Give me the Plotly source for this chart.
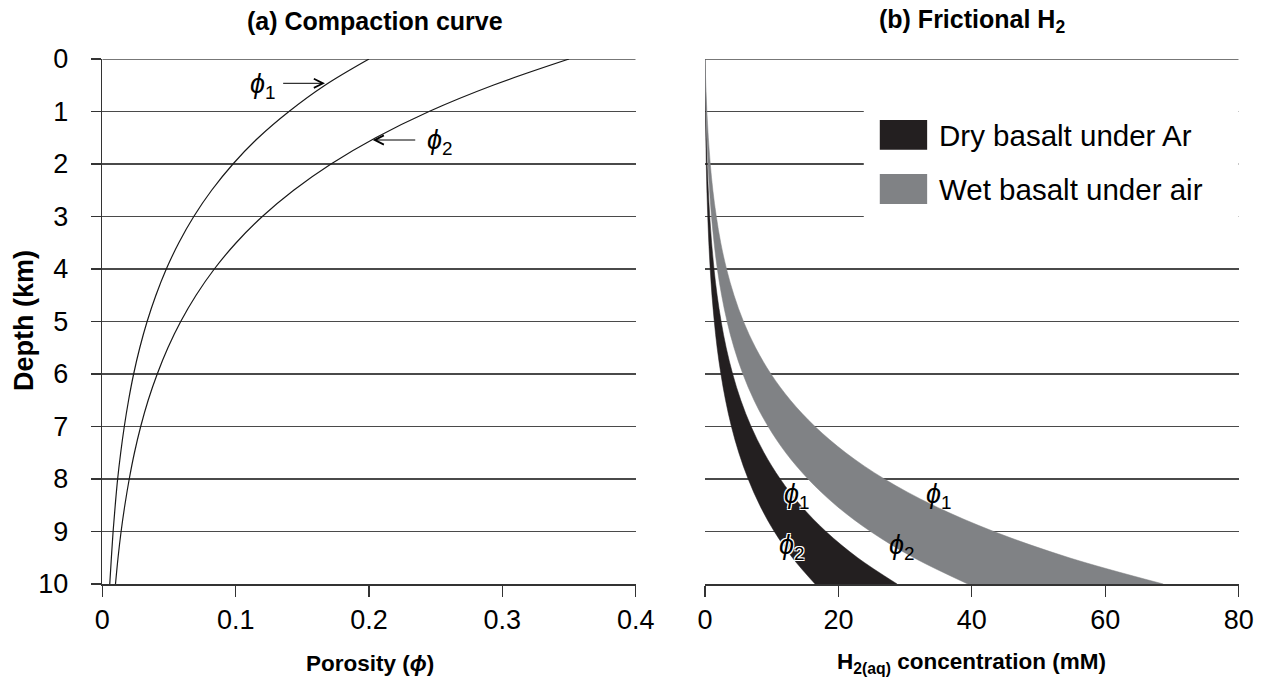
import plotly.graph_objects as go

# ---------------- data ----------------
depth_km = [0, 0.5, 1, 1.5, 2, 2.5, 3, 3.5, 4, 4.5, 5, 5.5, 6, 6.5, 7, 7.5, 8, 8.5, 9, 9.5, 10]

# (a) compaction curves: porosity vs depth
porosity_phi1 = [0.200, 0.167, 0.140, 0.117, 0.098, 0.082, 0.0686, 0.0574, 0.0480, 0.0402, 0.0336,
                 0.0281, 0.0235, 0.0197, 0.0165, 0.0138, 0.0115, 0.0097, 0.0081, 0.0068, 0.0056]
porosity_phi2 = [0.350, 0.293, 0.245, 0.205, 0.1715, 0.1435, 0.120, 0.1004, 0.0840, 0.0703, 0.0588,
                 0.0492, 0.0412, 0.0344, 0.0288, 0.0241, 0.0202, 0.0169, 0.0141, 0.0118, 0.0099]

# (b) frictional H2 concentration (mM) vs depth
dry_phi1 = [0, 0.05, 0.12, 0.21, 0.33, 0.50, 0.71, 0.99, 1.35, 1.82, 2.42, 3.18, 4.15, 5.37, 6.91,
            8.85, 11.28, 14.32, 18.13, 22.88, 28.8]
dry_phi2 = [0, 0.03, 0.07, 0.12, 0.19, 0.28, 0.41, 0.57, 0.78, 1.04, 1.39, 1.82, 2.38, 3.08, 3.96,
            5.07, 6.47, 8.21, 10.39, 13.11, 16.5]
wet_phi1 = [0, 0.12, 0.28, 0.50, 0.79, 1.18, 1.70, 2.36, 3.23, 4.35, 5.77, 7.59, 9.89, 12.81, 16.49,
            21.1, 26.9, 34.2, 43.3, 54.6, 68.7]
wet_phi2 = [0, 0.07, 0.16, 0.29, 0.45, 0.68, 0.97, 1.36, 1.85, 2.49, 3.31, 4.35, 5.68, 7.35, 9.46,
            12.11, 15.45, 19.61, 24.82, 31.32, 39.4]

series_names = ["Dry basalt under Ar", "Wet basalt under air"]
series_colors = ["#231f20", "#808285"]

depth_ticks = list(range(0, 11))
porosity_ticks = [0, 0.1, 0.2, 0.3, 0.4]
porosity_ticklabels = ["0", "0.1", "0.2", "0.3", "0.4"]
h2_ticks = [0, 20, 40, 60, 80]

FONT = "Liberation Sans, Arial, Helvetica, sans-serif"
GRID = "#4a4a4a"
W, H = 1266, 685

fig = go.Figure()

# ---- panel (a) ----
for phi in (porosity_phi1, porosity_phi2):
    fig.add_trace(go.Scatter(x=phi, y=depth_km, mode="lines",
                             line=dict(color="#1a1a1a", width=1.2, shape="spline", smoothing=1.0),
                             xaxis="x", yaxis="y", showlegend=False, hoverinfo="skip"))

# ---- panel (b) bands: left edge (phi2) then right edge (phi1) filled to it ----
for left, right, name, col in ((dry_phi2, dry_phi1, series_names[0], series_colors[0]),
                               (wet_phi2, wet_phi1, series_names[1], series_colors[1])):
    fig.add_trace(go.Scatter(x=left, y=depth_km, mode="lines",
                             line=dict(color=col, width=0.5, shape="spline", smoothing=1.0),
                             xaxis="x2", yaxis="y2", showlegend=False, hoverinfo="skip"))
    fig.add_trace(go.Scatter(x=right, y=depth_km, mode="lines", fill="tonextx", fillcolor=col,
                             line=dict(color=col, width=0.5, shape="spline", smoothing=1.0),
                             name=name, xaxis="x2", yaxis="y2", showlegend=False,
                             hoverinfo="skip"))

# domains from pixel positions
xa = [102.3 / W, 635.7 / W]
xb = [705.0 / W, 1238.7 / W]
yd = [1 - 584.0 / H, 1 - 59.0 / H]

TICK = 27
tickfont = dict(family=FONT, size=TICK, color="#000")
common_y = dict(range=[10, 0], tickvals=depth_ticks, showgrid=True, gridcolor=GRID, gridwidth=1.5,
                zeroline=False, domain=yd, fixedrange=True, automargin=False)

fig.update_layout(
    width=W, height=H, margin=dict(l=0, r=0, t=0, b=0, autoexpand=False),
    paper_bgcolor="white", plot_bgcolor="white", showlegend=False,
    font=dict(family=FONT, color="#000"),
    xaxis=dict(domain=xa, range=[0, 0.4], tickvals=porosity_ticks, ticktext=porosity_ticklabels,
               showgrid=False, zeroline=False, showline=True, linecolor="#333", linewidth=1.5,
               ticks="outside", ticklen=11, tickwidth=1.3, tickcolor="#333", tickfont=tickfont,
               ticklabelstandoff=0, anchor="y", automargin=False, fixedrange=True),
    yaxis=dict(**common_y, showline=True, linecolor="#333", linewidth=1.5, ticks="outside",
               ticklen=10, tickwidth=1.3, tickcolor="#333", tickfont=tickfont,
               ticklabelstandoff=17, anchor="x"),
    xaxis2=dict(domain=xb, range=[0, 80], tickvals=h2_ticks, showgrid=False, zeroline=False,
                showline=True, linecolor="#333", linewidth=1.5, ticks="outside", ticklen=11,
                tickwidth=1.3, tickcolor="#333", tickfont=tickfont, ticklabelstandoff=0,
                anchor="y2", automargin=False, fixedrange=True),
    yaxis2=dict(**common_y, showline=False, showticklabels=False, ticks="", anchor="x2"),
)

# top border lines (depth 0)
for xr, yr, xmax in (("x", "y", 0.4), ("x2", "y2", 80)):
    fig.add_shape(type="line", xref=xr, yref=yr, x0=0, x1=xmax, y0=0, y1=0,
                  line=dict(color=GRID, width=1.6), layer="below")

# legend area (masks gridlines) and swatches
fig.add_shape(type="rect", xref="x2", yref="y2", x0=23.8, x1=80.5, y0=0.35, y1=3.7,
              fillcolor="white", line=dict(width=0), layer="above")
fig.add_shape(type="rect", xref="x2", yref="y2", x0=26.2, x1=33.3, y0=1.16, y1=1.73,
              fillcolor=series_colors[0], line=dict(width=0), layer="above")
fig.add_shape(type="rect", xref="x2", yref="y2", x0=26.2, x1=33.3, y0=2.19, y1=2.76,
              fillcolor=series_colors[1], line=dict(width=0), layer="above")
LEG = 29.5
fig.add_annotation(xref="x2", yref="y2", x=34.8, y=1.45, text=series_names[0], showarrow=False,
                   xanchor="left", yanchor="middle", font=dict(family=FONT, size=LEG))
fig.add_annotation(xref="x2", yref="y2", x=34.8, y=2.48, text=series_names[1], showarrow=False,
                   xanchor="left", yanchor="middle", font=dict(family=FONT, size=LEG))

# titles
fig.add_annotation(xref="paper", yref="paper", x=375 / W, y=1 - 21 / H, xanchor="center",
                   yanchor="middle", text="<b>(a) Compaction curve</b>", showarrow=False,
                   font=dict(family=FONT, size=25))
fig.add_annotation(xref="paper", yref="paper", x=972 / W, y=1 - 21 / H, xanchor="center",
                   yanchor="middle", text="<b>(b) Frictional H<sub>2</sub></b>", showarrow=False,
                   font=dict(family=FONT, size=25))
# axis titles
fig.add_annotation(xref="paper", yref="paper", x=370 / W, y=1 - 663 / H, xanchor="center",
                   yanchor="middle", text="<b>Porosity (<i>ϕ</i>)</b>", showarrow=False,
                   font=dict(family=FONT, size=22.5))
fig.add_annotation(xref="paper", yref="paper", x=971 / W, y=1 - 663 / H, xanchor="center",
                   yanchor="middle", text="<b>H<sub>2(aq)</sub> concentration (mM)</b>",
                   showarrow=False, font=dict(family=FONT, size=22.5))
fig.add_annotation(xref="paper", yref="paper", x=24 / W, y=1 - 321 / H, xanchor="center",
                   yanchor="middle", text="<b>Depth (km)</b>", showarrow=False, textangle=-90,
                   font=dict(family=FONT, size=27))

# panel (a) curve labels with arrows
PHI = 27
phi_font = dict(family=FONT, size=PHI, color="#000")
fig.add_annotation(xref="x", yref="y", x=0.1207, y=0.52, text="<i>ϕ</i><sub>1</sub>",
                   showarrow=False, font=phi_font, xanchor="center", yanchor="middle")
fig.add_annotation(xref="x", yref="y", axref="x", ayref="y", x=0.167, y=0.463, ax=0.1345, ay=0.463,
                   text="", showarrow=True, arrowhead=5, arrowsize=1.8, arrowwidth=1,
                   arrowcolor="#000")
fig.add_annotation(xref="x", yref="y", x=0.253, y=1.58, text="<i>ϕ</i><sub>2</sub>",
                   showarrow=False, font=phi_font, xanchor="center", yanchor="middle")
fig.add_annotation(xref="x", yref="y", axref="x", ayref="y", x=0.2028, y=1.543, ax=0.2358, ay=1.543,
                   text="", showarrow=True, arrowhead=5, arrowsize=1.8, arrowwidth=1,
                   arrowcolor="#000")

# panel (b) band labels
halo = "1px 1px 0 #fff, -1px -1px 0 #fff, 1px -1px 0 #fff, -1px 1px 0 #fff"
fig.add_annotation(xref="x2", yref="y2", x=13.8, y=8.32, text="<i>ϕ</i><sub>1</sub>",
                   showarrow=False, xanchor="center", yanchor="middle",
                   font=dict(family=FONT, size=PHI, color="#000", shadow=halo))
fig.add_annotation(xref="x2", yref="y2", x=13.1, y=9.3, text="<i>ϕ</i><sub>2</sub>",
                   showarrow=False, xanchor="center", yanchor="middle",
                   font=dict(family=FONT, size=PHI, color="#000", shadow=halo))
fig.add_annotation(xref="x2", yref="y2", x=35.1, y=8.32, text="<i>ϕ</i><sub>1</sub>",
                   showarrow=False, xanchor="center", yanchor="middle",
                   font=dict(family=FONT, size=PHI, color="#000"))
fig.add_annotation(xref="x2", yref="y2", x=29.6, y=9.3, text="<i>ϕ</i><sub>2</sub>",
                   showarrow=False, xanchor="center", yanchor="middle",
                   font=dict(family=FONT, size=PHI, color="#000"))

fig.write_html("out.html", config={"displayModeBar": False, "staticPlot": True},
               post_script="document.body.style.margin='0px';")
